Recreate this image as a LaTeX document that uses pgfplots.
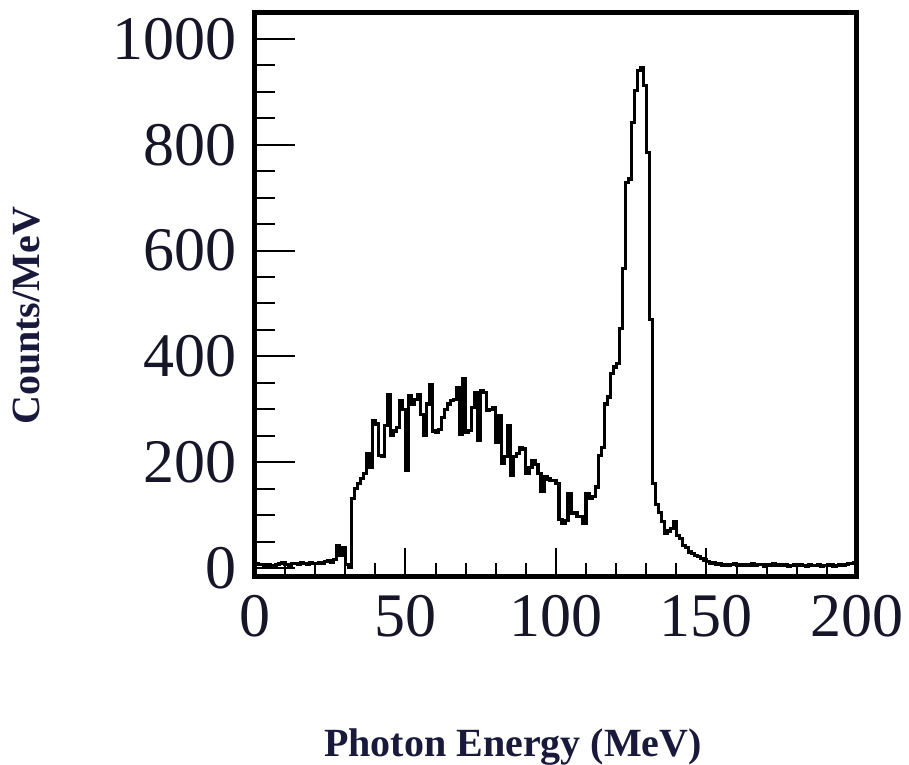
\documentclass[border=0pt]{standalone}
\usepackage{pgfplots}
\pgfplotsset{compat=1.18}
\usepackage{pgfplotstable}
\usepackage{fontspec}
\setmainfont{Liberation Serif}

\definecolor{labelink}{RGB}{25,25,60}
\definecolor{tickink}{RGB}{22,22,40}

% photon spectrum, 1 MeV bins: left bin edge, counts per MeV
\pgfplotstableread{
E    N
0    8
1    7
2    6
3    5
4    6
5    4
6    5
7    6
8    9
9    10
10   7
11   5
12   8
13   9
14   6
15   10
16   8
17   7
18   11
19   9
20   8
21   10
22   9
23   12
24   14
25   11
26   16
27   42
28   24
29   38
30   6
31   2
32   131
33   150
34   160
35   169
36   178
37   216
38   190
39   278
40   272
41   213
42   210
43   269
44   328
45   250
46   259
47   265
48   316
49   300
50   184
51   325
52   310
53   318
54   328
55   290
56   250
57   310
58   347
59   259
60   256
61   262
62   285
63   300
64   310
65   316
66   318
67   341
68   253
69   357
70   256
71   260
72   304
73   331
74   241
75   335
76   332
77   297
78   300
79   304
80   237
81   288
82   197
83   210
84   269
85   175
86   210
87   216
88   228
89   225
90   178
91   190
92   203
93   195
94   178
95   144
96   172
97   168
98   166
99   166
100  160
101  91
102  84
103  90
104  141
105  103
106  105
107  97
108  97
109  84
110  140
111  131
112  135
113  153
114  212
115  228
116  310
117  323
118  368
119  380
120  386
121  453
122  566
123  729
124  735
125  842
126  902
127  940
128  945
129  912
130  786
131  470
132  160
133  120
134  105
135  88
136  66
137  70
138  75
139  88
140  62
141  55
142  43
143  38
144  30
145  28
146  24
147  22
148  18
149  15
150  12
151  9
152  11
153  7
154  8
155  5
156  7
157  4
158  6
159  8
160  5
161  7
162  4
163  6
164  5
165  8
166  4
167  6
168  7
169  3
170  6
171  5
172  8
173  4
174  6
175  5
176  7
177  3
178  5
179  6
180  4
181  7
182  5
183  3
184  6
185  4
186  5
187  7
188  3
189  5
190  4
191  6
192  3
193  5
194  7
195  4
196  6
197  8
198  9
199  10
200  10
}\spectrum

\pgfplotsset{
  frame/.style={
    scale only axis,
    width=602pt, height=564pt,
    xmin=0, xmax=200, ymin=-17, ymax=1049,
    axis line style={line width=5pt, black},
    tick align=inside,
    tick pos=left,
    tick style={line width=2pt, black},
    /pgf/number format/assume math mode=true,
    /pgf/number format/1000 sep={},
    tick label style={font=\fontsize{62}{62}\selectfont, text=tickink, inner sep=0pt},
  },
}

\begin{document}
\begin{tikzpicture}
% x ticks, labels and the spectrum
\begin{axis}[
  frame,
  xtick={0,50,100,150,200},
  minor xtick={10,20,30,40,60,70,80,90,110,120,130,140,160,170,180,190},
  ytick=\empty,
  major tick length=29pt,
  minor tick length=14pt,
  xticklabel style={anchor=north, yshift=-18pt},
  xlabel={Photon Energy (MeV)},
  every axis x label/.style={at={(axis description cs:0.4286,-0.3175)}, anchor=base,
    font=\fontsize{40}{40}\selectfont\bfseries, text=labelink},
  ylabel={Counts/MeV},
  every axis y label/.style={at={(axis description cs:-0.3787,0.463)}, anchor=center, rotate=90,
    font=\fontsize{40}{40}\selectfont\bfseries, text=labelink},
]
\addplot[const plot, black, line width=3.2pt, line join=miter] table[x=E, y=N] {\spectrum};
\coordinate (bbsw) at (axis description cs:-0.4236,-0.3333);
\coordinate (bbne) at (axis description cs:1.0864,1.0230);
\end{axis}
% y ticks and labels
\begin{axis}[
  frame,
  xtick=\empty,
  ytick={0,200,400,600,800,1000},
  minor ytick={50,100,150,250,300,350,450,500,550,650,700,750,850,900,950},
  major tick length=40pt,
  minor tick length=20pt,
  yticklabel style={anchor=east, xshift=-18pt},
]
\end{axis}
\pgfresetboundingbox
\path[use as bounding box] (bbsw) rectangle (bbne);
\end{tikzpicture}
\end{document}
